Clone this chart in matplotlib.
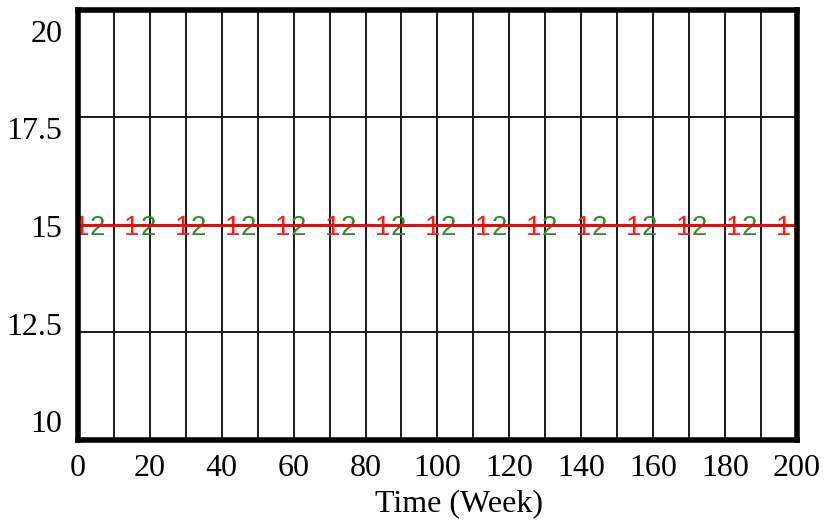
import numpy as np
import matplotlib
matplotlib.use('Agg')
import matplotlib.pyplot as plt
import matplotlib.transforms as mtransforms

# simulation output: both runs sit flat at 15 over the whole horizon
time_weeks = [0, 200]
run1 = [15, 15]
run2 = [15, 15]

x_ticks = [0, 20, 40, 60, 80, 100, 120, 140, 160, 180, 200]
y_ticks = [10, 12.5, 15, 17.5, 20]
y_tick_labels = ['10', '12.5', '15', '17.5', '20']

plt.rcParams['font.family'] = 'Liberation Serif'

fig = plt.figure(figsize=(8.3, 5.23), dpi=100)
ax = fig.add_axes([0.094, 0.159, 0.866, 0.822])

ax.set_xlim(0, 200)
ax.set_ylim(10, 20)

# grid every 10 weeks / 2.5 units, no tick marks
ax.set_xticks(np.arange(0, 201, 10), minor=True)
ax.set_xticks(x_ticks)
ax.set_xticklabels([str(t) for t in x_ticks], fontsize=23)
ax.set_yticks(y_ticks)
ax.set_yticklabels([])
ax.grid(True, which='both', color='#1a1a1a', linewidth=1.4)
ax.tick_params(which='both', length=0, pad=10)

# y labels spread evenly down the left edge
trans = mtransforms.blended_transform_factory(ax.transAxes, ax.transAxes)
for frac, lab in zip(np.linspace(0.035, 0.944, len(y_tick_labels)), y_tick_labels):
    ax.text(-0.022, frac, lab, transform=trans, ha='right', va='center', fontsize=23)

for s in ax.spines.values():
    s.set_linewidth(4)
    s.set_color('black')
    s.set_zorder(5)

ax.plot(time_weeks, run2, color='#2e8b2e', linewidth=2, zorder=2)

# numbered run markers along each line
mark1 = np.arange(1.1, 200, 13.95)
mark2 = mark1[:-1] + 4.4
for t in mark1:
    ax.text(t, np.interp(t, time_weeks, run1), '1', color='#ff1a1a', fontsize=20,
            family='Liberation Sans', ha='center', va='center_baseline', zorder=3)
for t in mark2:
    ax.text(t, np.interp(t, time_weeks, run2), '2', color='#2e8b2e', fontsize=20,
            family='Liberation Sans', ha='center', va='center_baseline', zorder=3)

ax.plot(time_weeks, run1, color='#ff0000', linewidth=2, zorder=4)

ax.set_xlabel('Time (Week)', fontsize=23)
ax.xaxis.set_label_coords(0.53, -0.115)

fig.savefig('out.png', dpi=100)
